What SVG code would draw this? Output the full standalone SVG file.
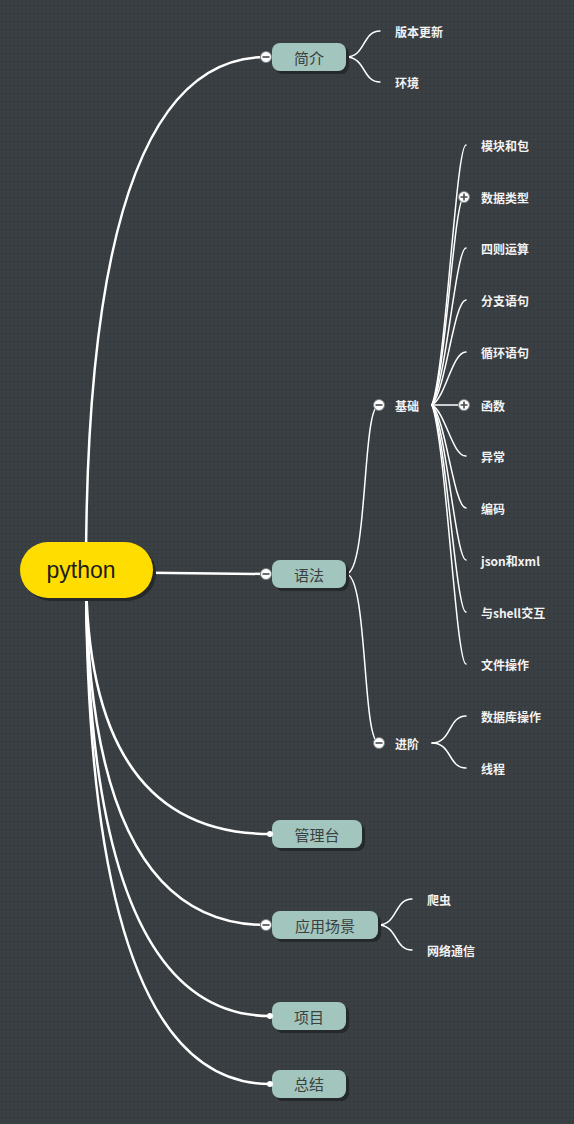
<svg xmlns="http://www.w3.org/2000/svg" width="574" height="1124" viewBox="0 0 574 1124">
<defs>
<pattern id="dots" width="4" height="4" patternUnits="userSpaceOnUse">
<rect width="4" height="4" fill="#393f42"/>
<rect x="1" y="1" width="1" height="1" fill="#2d3235"/>
</pattern>
<style>
.main{fill:none;stroke:#ffffff;stroke-width:2.5;stroke-linecap:round}
.sub{fill:none;stroke:#ffffff;stroke-width:1.5;stroke-linecap:round}
.box{fill:#a2c5be}
.shadow{fill:#25292b}
.btxt{font-family:"Noto Sans CJK SC","Liberation Sans",sans-serif;font-size:15px;fill:#3a3f40;text-anchor:middle;dominant-baseline:central}
.ltxt{font-family:"Noto Sans CJK SC","Liberation Sans",sans-serif;font-size:12px;font-weight:bold;fill:#f2f2f2;dominant-baseline:central}
.tog{fill:#ffffff;stroke:#7a7f80;stroke-width:1}
.sign{stroke:#444a4c;stroke-width:1.6;fill:none}
.dot{fill:#ffffff}
</style>
</defs>
<rect width="574" height="1124" fill="url(#dots)"/>

<g id="connectors">
<path class="main" d="M86,570 Q86,57 266,57"/>
<path class="main" d="M86,572 L266,574"/>
<path class="main" d="M86,570 Q86,834 270,834"/>
<path class="main" d="M86,570 Q86,925 266,925"/>
<path class="main" d="M86,570 Q86,1016 270,1016"/>
<path class="main" d="M86,570 Q86,1084 270,1084"/>

<path class="sub" d="M346,57 C366,57 362,31 380,31"/>
<path class="sub" d="M346,57 C366,57 362,82 380,82"/>

<path class="sub" d="M346,574 C368,574 362,405 379,405"/>
<path class="sub" d="M346,574 C368,574 362,743 379,743"/>

<path class="sub" d="M432,405 C446,366 456,145 466,145"/>
<path class="sub" d="M432,405 C446,374 454,197 464,197"/>
<path class="sub" d="M432,405 C446,381 456,248 466,248"/>
<path class="sub" d="M432,405 C446,389 454,300 466,300"/>
<path class="sub" d="M432,405 C446,397 452,352 466,352"/>
<path class="sub" d="M432,405 L464,405"/>
<path class="sub" d="M432,405 C446,413 452,456 466,456"/>
<path class="sub" d="M432,405 C446,420 454,508 466,508"/>
<path class="sub" d="M432,405 C446,428 456,560 466,560"/>
<path class="sub" d="M432,405 C446,436 456,612 466,612"/>
<path class="sub" d="M432,405 C446,444 456,664 466,664"/>

<path class="sub" d="M432,743 C452,743 448,716 466,716"/>
<path class="sub" d="M432,743 C452,743 448,768 466,768"/>

<path class="sub" d="M378,925 C398,925 394,899 412,899"/>
<path class="sub" d="M378,925 C398,925 394,950 412,950"/>
</g>

<g id="root">
<rect class="shadow" x="23" y="545" width="133" height="56" rx="28"/>
<rect x="20" y="542" width="133" height="56" rx="28" fill="#ffdd00"/>
<text x="81" y="570" font-family="'Liberation Sans',Arial,sans-serif" font-size="23" fill="#1e1e1e" text-anchor="middle" dominant-baseline="central">python</text>
</g>

<g id="n-jianjie">
<rect class="shadow" x="275" y="46" width="74" height="28" rx="8"/>
<rect class="box" x="272" y="43" width="74" height="28" rx="8"/>
<text class="btxt" x="309" y="57">简介</text>
<circle class="tog" cx="266" cy="57" r="5.5"/><path class="sign" d="M262.5,57 H269.5"/>
</g>
<g id="n-banben"><text class="ltxt" x="395" y="31">版本更新</text></g>
<g id="n-huanjing"><text class="ltxt" x="395" y="82">环境</text></g>

<g id="n-yufa">
<rect class="shadow" x="275" y="563" width="74" height="28" rx="8"/>
<rect class="box" x="272" y="560" width="74" height="28" rx="8"/>
<text class="btxt" x="309" y="574">语法</text>
<circle class="tog" cx="266" cy="574" r="5.5"/><path class="sign" d="M262.5,574 H269.5"/>
</g>

<g id="n-jichu">
<circle class="tog" cx="379" cy="405" r="5.5"/><path class="sign" d="M375.5,405 H382.5"/>
<text class="ltxt" x="395" y="405">基础</text>
</g>
<g id="n-jinjie">
<circle class="tog" cx="379" cy="743" r="5.5"/><path class="sign" d="M375.5,743 H382.5"/>
<text class="ltxt" x="395" y="743">进阶</text>
</g>

<g id="n-mokuai"><text class="ltxt" x="481" y="145">模块和包</text></g>
<g id="n-shuju">
<circle class="tog" cx="464" cy="197" r="5.5"/><path class="sign" d="M460.5,197 H467.5 M464,193.5 V200.5"/>
<text class="ltxt" x="481" y="197">数据类型</text>
</g>
<g id="n-sizhe"><text class="ltxt" x="481" y="248">四则运算</text></g>
<g id="n-fenzhi"><text class="ltxt" x="481" y="300">分支语句</text></g>
<g id="n-xunhuan"><text class="ltxt" x="481" y="352">循环语句</text></g>
<g id="n-hanshu">
<circle class="tog" cx="464" cy="405" r="5.5"/><path class="sign" d="M460.5,405 H467.5 M464,401.5 V408.5"/>
<text class="ltxt" x="481" y="405">函数</text>
</g>
<g id="n-yichang"><text class="ltxt" x="481" y="456">异常</text></g>
<g id="n-bianma"><text class="ltxt" x="481" y="508">编码</text></g>
<g id="n-json"><text class="ltxt" x="481" y="560">json和xml</text></g>
<g id="n-shell"><text class="ltxt" x="481" y="612">与shell交互</text></g>
<g id="n-wenjian"><text class="ltxt" x="481" y="664">文件操作</text></g>
<g id="n-db"><text class="ltxt" x="481" y="716">数据库操作</text></g>
<g id="n-xiancheng"><text class="ltxt" x="481" y="768">线程</text></g>

<g id="n-guanli">
<rect class="shadow" x="275" y="823" width="90" height="28" rx="8"/>
<rect class="box" x="272" y="820" width="90" height="28" rx="8"/>
<text class="btxt" x="317" y="834">管理台</text>
<circle class="dot" cx="270" cy="834" r="3"/>
</g>

<g id="n-yingyong">
<rect class="shadow" x="275" y="914" width="106" height="28" rx="8"/>
<rect class="box" x="272" y="911" width="106" height="28" rx="8"/>
<text class="btxt" x="325" y="925">应用场景</text>
<circle class="tog" cx="266" cy="925" r="5.5"/><path class="sign" d="M262.5,925 H269.5"/>
</g>
<g id="n-pachong"><text class="ltxt" x="427" y="899">爬虫</text></g>
<g id="n-wangluo"><text class="ltxt" x="427" y="950">网络通信</text></g>

<g id="n-xiangmu">
<rect class="shadow" x="275" y="1005" width="74" height="28" rx="8"/>
<rect class="box" x="272" y="1002" width="74" height="28" rx="8"/>
<text class="btxt" x="309" y="1016">项目</text>
<circle class="dot" cx="270" cy="1016" r="3"/>
</g>

<g id="n-zongjie">
<rect class="shadow" x="275" y="1073" width="74" height="28" rx="8"/>
<rect class="box" x="272" y="1070" width="74" height="28" rx="8"/>
<text class="btxt" x="309" y="1083">总结</text>
<circle class="dot" cx="270" cy="1084" r="3"/>
</g>
</svg>
